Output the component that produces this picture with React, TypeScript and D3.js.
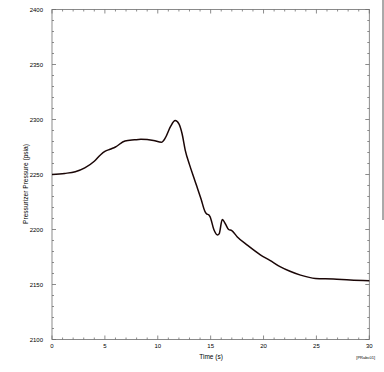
import React from "react";
import * as d3 from "d3";

const timeS = [0, 1.2, 2.2, 3.1, 4.0, 4.6, 5.0, 5.5, 6.0, 6.9, 7.8, 8.4, 9.6, 10.35, 10.7, 11.2, 11.65, 12.0, 12.3, 12.6, 13.0, 13.4, 13.7, 14.1, 14.48, 14.65, 14.8, 14.95, 15.3, 15.65, 15.8, 16.1, 16.4, 16.7, 17.0, 17.5, 18.5, 19.7, 20.6, 21.6, 22.5, 23.5, 24.9, 26.6, 28.2, 30];
const pressure = [2250, 2251, 2252.5, 2256, 2262, 2268, 2271, 2273, 2275, 2280.5, 2281.5, 2282, 2281, 2279.3, 2283, 2293.5, 2299, 2296, 2287, 2272, 2259, 2247.5, 2239, 2227.5, 2216, 2214, 2213.5, 2211.5, 2200, 2195, 2196, 2209, 2205, 2200, 2199, 2193.5, 2185.5, 2177, 2172, 2166, 2162, 2158.5, 2155.5, 2155, 2154, 2153.5];
const xTicks = [0, 5, 10, 15, 20, 25, 30];
const yTicks = [2100, 2150, 2200, 2250, 2300, 2350, 2400];
const xLabel = "Time (s)";
const yLabel = "Pressurizer Pressure (psia)";
const tag = "[PRabc01]";

export default function App() {
  const W = 384, H = 372;
  const left = 52, right = 369.3, top = 9.5, bottom = 339.5;
  const x = d3.scaleLinear().domain([0, 30]).range([left, right]);
  const y = d3.scaleLinear().domain([2100, 2400]).range([bottom, top]);
  const data = timeS.map((t, i) => [t, pressure[i]] as [number, number]);
  const line = d3.line<[number, number]>().x(d => x(d[0])).y(d => y(d[1])).curve(d3.curveMonotoneX);
  const xMinor = d3.range(0, 31, 1);
  const yMinor = d3.range(2100, 2401, 10);
  const axisColor = "#6e6e6e";
  const font = "'Liberation Sans', Arial, sans-serif";
  return (
    <svg width={W} height={H} style={{ position: "absolute", left: 0, top: 0, background: "#fff" }}>
      <rect x={0} y={0} width={W} height={H} fill="#fff" />
      <g stroke={axisColor} strokeWidth={0.8}>
        {xMinor.map(t => {
          const major = t % 5 === 0;
          const l = major ? 4 : 2;
          return (
            <g key={"xt" + t}>
              <line x1={x(t)} x2={x(t)} y1={bottom} y2={bottom - l} />
              <line x1={x(t)} x2={x(t)} y1={top} y2={top + l} />
            </g>
          );
        })}
        {yMinor.map(v => {
          const major = v % 50 === 0;
          const l = major ? 4 : 2;
          return (
            <g key={"yt" + v}>
              <line x1={left} x2={left + l} y1={y(v)} y2={y(v)} />
              <line x1={right} x2={right - l} y1={y(v)} y2={y(v)} />
            </g>
          );
        })}
        <rect x={left} y={top} width={right - left} height={bottom - top} fill="none" />
      </g>
      <line x1={383} x2={383} y1={0} y2={220} stroke="#555" strokeWidth={1} />
      <path d={line(data) || ""} fill="none" stroke="#1a0606" strokeWidth={1.5} />
      <g fontFamily={font} fontSize={6} fill="#000">
        {xTicks.map(t => (
          <text key={"xl" + t} x={x(t)} y={347.5} textAnchor="middle">{t}</text>
        ))}
        {yTicks.map(v => (
          <text key={"yl" + v} x={43} y={y(v) + 2} textAnchor="end">{v}</text>
        ))}
      </g>
      <text x={211} y={359} textAnchor="middle" fontFamily={font} fontSize={6.5}>{xLabel}</text>
      <text transform="translate(28,184) rotate(-90)" textAnchor="middle" fontFamily={font} fontSize={6.6}>{yLabel}</text>
      <text x={375} y={359} textAnchor="end" fontFamily={font} fontSize={4}>{tag}</text>
    </svg>
  );
}
